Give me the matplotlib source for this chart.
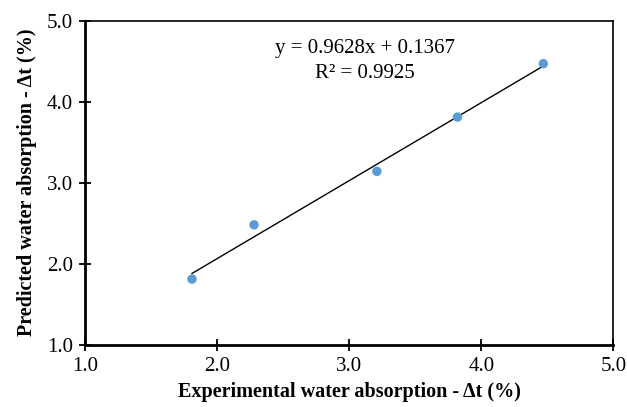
import matplotlib

matplotlib.use("Agg", force=True)
import matplotlib.pyplot as plt
import numpy as np

plt.rcParams["font.family"] = ["Liberation Serif", "DejaVu Serif"]

# measured vs predicted water absorption (%)
experimental = [1.81, 2.28, 3.21, 3.82, 4.47]
predicted = [1.81, 2.48, 3.14, 3.81, 4.47]
slope = 0.9628
intercept = 0.1367
r_squared = 0.9925
ticks = [1.0, 2.0, 3.0, 4.0, 5.0]

fig = plt.figure(figsize=(6.27, 4.07), dpi=100)
ax = fig.add_axes([85 / 627, 1 - 344.7 / 407, (613.3 - 85) / 627, (344.7 - 20.7) / 407])

x_fit = np.array([min(experimental), max(experimental)])
ax.plot(x_fit, slope * x_fit + intercept, color="black", lw=1.0, zorder=2)
ax.scatter(experimental, predicted, s=46, color="#5B9BD5", edgecolors="none", zorder=3)

ax.text(3.12, 4.66, f"y = {slope}x + {intercept}", ha="center", va="center", fontsize=15)
ax.text(3.12, 4.35, f"R² = {r_squared}", ha="center", va="center", fontsize=15)

ax.set_xlim(1.0, 5.0)
ax.set_ylim(1.0, 5.0)
ax.set_xticks(ticks)
ax.set_yticks(ticks)
ax.set_xticklabels([f"{t:.1f}" for t in ticks])
ax.set_yticklabels([f"{t:.1f}" for t in ticks])
ax.tick_params(direction="inout", length=9, width=1.3, labelsize=15, pad=4)

for side in ["left", "bottom"]:
    ax.spines[side].set_linewidth(2.0)
for side in ["top", "right"]:
    ax.spines[side].set_linewidth(1.2)

ax.set_xlabel("Experimental water absorption - Δt (%)", fontsize=14.5, fontweight="bold", labelpad=5)
ax.set_ylabel("Predicted water absorption - Δt (%)", fontsize=14.5, fontweight="bold", labelpad=7)

fig.savefig("out.png", dpi=100)
plt.close(fig)
